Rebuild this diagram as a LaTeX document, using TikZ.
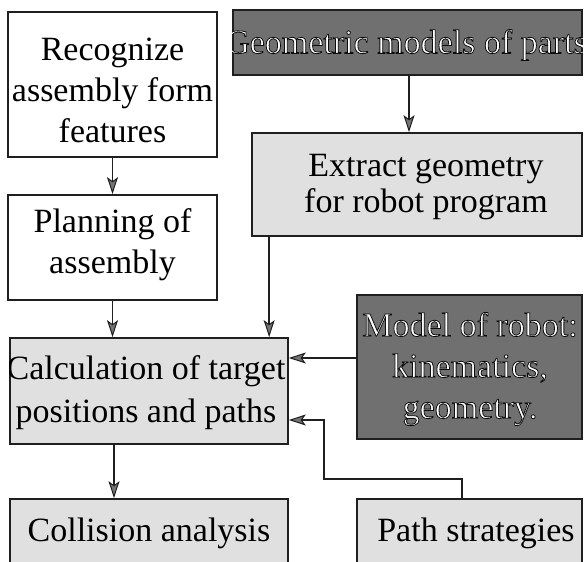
\documentclass[tikz,border=0pt]{standalone}
\usepackage{fontspec}
\setmainfont{Liberation Serif}
\usetikzlibrary{arrows.meta}
\definecolor{ink}{gray}{0.12}
\definecolor{darkbox}{gray}{0.44}
\definecolor{lightbox}{gray}{0.88}

% white lettering with a thin dark rim (fill, then stroke the glyph outlines)
\newcommand\rimmed[1]{%
  \special{pdf:literal direct 2 Tr 0.8 w 0.05 G}#1\special{pdf:literal direct 0 Tr}}

\begin{document}
\begin{tikzpicture}[x=1pt,y=-1pt,
  box/.style={draw=ink, line width=1.7pt, rectangle, inner sep=0pt},
  plainbox/.style={box, fill=white},
  lightbox/.style={box, fill=lightbox},
  darkbox/.style={box, fill=darkbox},
  txt/.style={align=center, inner sep=0pt, font=\fontsize{34}{41}\selectfont},
  rimtxt/.style={txt, text=white},
  arr/.style={draw=ink, line width=1.6pt,
    -{Stealth[length=17pt, width=11pt, inset=4pt, fill=black!55, line width=1pt]}}]
\useasboundingbox (0,0) rectangle (584,562);
\clip (0,0) rectangle (584,562);

% boxes
\node[plainbox, minimum width=209pt, minimum height=145pt] (rec)   at (112.5,84.5) {};
\node[darkbox,  minimum width=349pt, minimum height=65pt]  (geo)   at (407.5,42.5) {};
\node[lightbox, minimum width=330pt, minimum height=103pt] (ext)   at (417,184.5) {};
\node[plainbox, minimum width=209pt, minimum height=105pt] (plan)  at (112.5,247.5) {};
\node[lightbox, minimum width=278pt, minimum height=106pt] (calc)  at (149,391) {};
\node[darkbox,  minimum width=225pt, minimum height=144pt] (robot) at (469.5,367) {};
\node[lightbox, minimum width=278pt, minimum height=76pt]  (coll)  at (149,537) {};
\node[lightbox, minimum width=225pt, minimum height=76pt]  (path)  at (469.5,537) {};

% labels
\node[txt] at (112.5,90) {Recognize\\assembly form\\features};
\node[txt, font=\fontsize{34}{36}\selectfont] at (426,187) {Extract geometry\\for robot program};
\node[txt] at (112.5,245) {Planning of\\assembly};
\begin{scope}
  \clip (calc.north west) rectangle (calc.south east);
  \node[txt, font=\fontsize{34}{43}\selectfont] at (146,393) {Calculation of target\\positions and paths};
\end{scope}
\node[txt] at (149,533) {Collision analysis};
\node[txt] at (476,533) {Path strategies};
\begin{scope}
  \clip (geo.north west) rectangle (geo.south east);
  \node[rimtxt] at (406,45) {\rimmed{Geometric models of parts}};
\end{scope}
\node[rimtxt] at (470,369) {\rimmed{Model of robot:}\\\rimmed{kinematics,}\\\rimmed{geometry.}};

% connectors
\draw[arr] (rec) -- (plan);
\draw[arr] ([xshift=1.5pt]geo.south) -- ([xshift=1.5pt]geo.south |- ext.north);
\draw[arr] (plan) -- (plan |- calc.north);
\draw[arr] ([xshift=18pt]ext.south west) -- ([xshift=18pt]ext.south west |- calc.north);
\draw[arr] ([yshift=9pt]robot.west) -- ([yshift=9pt]robot.west -| calc.east);
\coordinate (bend) at (324,420);
\draw[arr] ([xshift=-7.5pt]path.north) -- ++(0,-19) -| (bend) -- (bend -| calc.east);
\draw[arr] ([xshift=-35pt]calc.south) -- ([xshift=-35pt]calc.south |- coll.north);
\end{tikzpicture}
\end{document}
